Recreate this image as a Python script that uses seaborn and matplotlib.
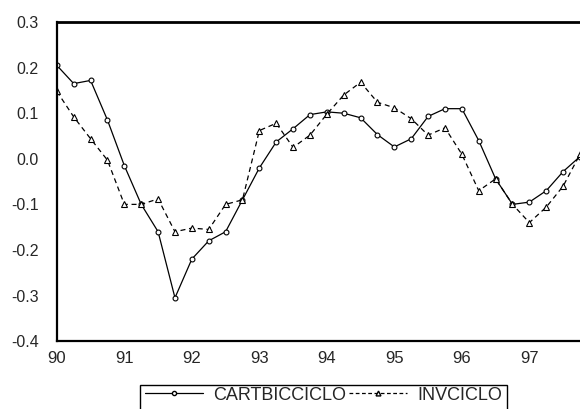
import numpy as np
import pandas as pd
import matplotlib
matplotlib.use("Agg")
import matplotlib.pyplot as plt
import seaborn as sns
from matplotlib.lines import Line2D
from matplotlib.patches import Rectangle

# quarterly observations 1990Q1 .. 1997Q4
years = [90, 91, 92, 93, 94, 95, 96, 97]
quarter_offsets = [0.0, 0.25, 0.5, 0.75]

cartbicciclo = [0.205, 0.165, 0.172, 0.085, -0.015, -0.10, -0.16, -0.305,
                -0.22, -0.18, -0.16, -0.09, -0.02, 0.037, 0.066, 0.097,
                0.103, 0.10, 0.09, 0.053, 0.026, 0.044, 0.093, 0.11,
                0.11, 0.04, -0.044, -0.10, -0.095, -0.07, -0.028, 0.005]

invciclo = [0.148, 0.092, 0.044, -0.003, -0.10, -0.10, -0.088, -0.16,
            -0.152, -0.155, -0.10, -0.09, 0.062, 0.078, 0.025, 0.052,
            0.098, 0.14, 0.168, 0.124, 0.112, 0.088, 0.052, 0.068,
            0.01, -0.07, -0.044, -0.10, -0.14, -0.106, -0.06, 0.01]

y_ticks = [0.3, 0.2, 0.1, 0.0, -0.1, -0.2, -0.3, -0.4]

x = [y + q for y in years for q in quarter_offsets]
df = pd.DataFrame({"t": x, "CARTBICCICLO": cartbicciclo, "INVCICLO": invciclo})

sns.set_style("white")
plt.rcParams["font.family"] = ["Liberation Sans", "DejaVu Sans"]

fig = plt.figure(figsize=(5.8, 4.09), dpi=100)
ax = fig.add_axes([0.098, 0.166, 0.902, 0.780])

sns.lineplot(data=df, x="t", y="CARTBICCICLO", ax=ax, color="black", lw=0.9,
             marker="o", markersize=3.5, mfc="white", mec="black", mew=0.8)
sns.lineplot(data=df, x="t", y="INVCICLO", ax=ax, color="black", lw=0.9,
             marker="^", markersize=5, mfc="white", mec="black", mew=0.8)
ax.lines[1].set_dashes([4, 3])

ax.set_xlim(90, 97.64)
ax.set_ylim(-0.4, 0.3)
ax.set_xlabel("")
ax.set_ylabel("")

ax.set_yticks(y_ticks)
ax.set_yticklabels([f"{v:.1f}" for v in y_ticks])
ax.set_xticks(years)
ax.set_xticklabels([str(y) for y in years])
ax.set_xticks(x, minor=True)
ax.tick_params(axis="y", direction="out", length=4, width=0.8, labelsize=11.5, pad=9)
ax.tick_params(axis="x", which="both", direction="in", length=4, width=0.8,
               labelsize=12, pad=7)

for side in ["top", "left", "bottom"]:
    ax.spines[side].set_color("black")
ax.spines["top"].set_linewidth(2.0)
ax.spines["left"].set_linewidth(1.6)
ax.spines["bottom"].set_linewidth(1.6)
ax.spines["right"].set_visible(False)

# legend, box cut by the bottom edge like the scan
handles = [
    Line2D([], [], color="black", lw=0.9, marker="o", markersize=3, mfc="white"),
    Line2D([], [], color="black", lw=0.9, ls=(0, (3, 2)), marker="^", markersize=3.5, mfc="white"),
]
fig.legend(handles, ["CARTBICCICLO", "INVCICLO"], ncol=2, frameon=False,
           loc="center", bbox_to_anchor=(0.558, 0.034), fontsize=13,
           handlelength=3.2, handletextpad=0.6, columnspacing=0.15,
           borderpad=0, borderaxespad=0)
fig.patches.append(Rectangle((140 / 580, -0.05), 367 / 580, 0.05 + 1 - 385 / 409,
                             transform=fig.transFigure, fill=False,
                             edgecolor="black", lw=1.0))

fig.savefig("out.png", dpi=100)
